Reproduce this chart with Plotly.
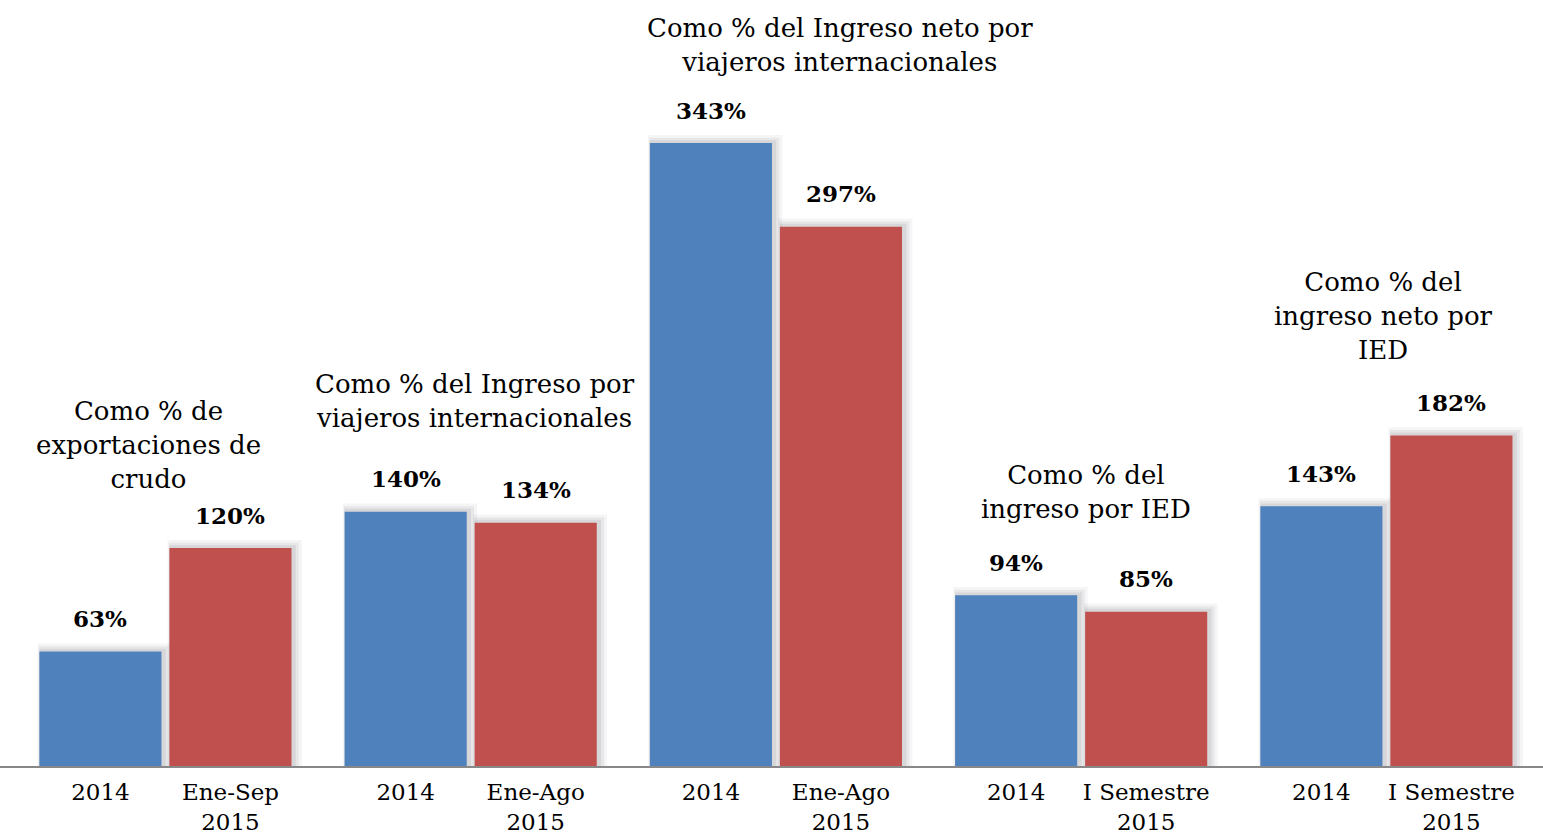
import plotly.graph_objects as go

# data
group_titles = [
    "Como % de<br>exportaciones de<br>crudo",
    "Como % del Ingreso por<br>viajeros internacionales",
    "Como % del Ingreso neto por<br>viajeros internacionales",
    "Como % del<br>ingreso por IED",
    "Como % del<br>ingreso neto por<br>IED",
]
first_labels = ["2014", "2014", "2014", "2014", "2014"]
second_labels = ["Ene-Sep<br>2015", "Ene-Ago<br>2015", "Ene-Ago<br>2015",
                 "I Semestre<br>2015", "I Semestre<br>2015"]
values_2014 = [63, 140, 343, 94, 143]
values_2015 = [120, 134, 297, 85, 182]

BLUE = "#4F81BD"
RED = "#C0504D"
FONT = "DejaVu Serif"

# layout helpers
OFFSET = 0.213
BAR_W = 0.4
title_dx = [-0.057, 0.014, 0.21, 0.017, -0.011]
title_y = [177, 201, 397, 151, 248]

x_first = [i - OFFSET for i in range(len(values_2014))]
x_second = [i + OFFSET for i in range(len(values_2015))]

fig = go.Figure()

# soft shadow behind every bar (a few faint layers)
for xs, vals in ((x_first, values_2014), (x_second, values_2015)):
    for dw, dx, dh, alpha in ((0.04, 0.014, 4.5, 0.05), (0.026, 0.011, 3.0, 0.07),
                              (0.014, 0.007, 1.6, 0.09)):
        fig.add_trace(go.Bar(
            x=[x + dx for x in xs], y=[v + dh for v in vals],
            width=BAR_W + dw,
            marker=dict(color=f"rgba(60,60,70,{alpha})", line=dict(width=0)),
            hoverinfo="skip", showlegend=False,
        ))

fig.add_trace(go.Bar(x=x_first, y=values_2014, width=BAR_W,
                     marker=dict(color=BLUE, line=dict(width=0)), showlegend=False))
fig.add_trace(go.Bar(x=x_second, y=values_2015, width=BAR_W,
                     marker=dict(color=RED, line=dict(width=0)), showlegend=False))

# value labels
for xs, vals in ((x_first, values_2014), (x_second, values_2015)):
    for x, v in zip(xs, vals):
        fig.add_annotation(x=x, y=v, text=f"<b>{v}%</b>", showarrow=False,
                           yshift=33, font=dict(family=FONT, size=23, color="black"))

# group titles
for i, t in enumerate(group_titles):
    fig.add_annotation(x=i + title_dx[i], y=title_y[i], text=t, showarrow=False,
                       yanchor="middle", align="center",
                       font=dict(family=FONT, size=26, color="black"))

fig.update_layout(
    width=1543, height=836,
    barmode="overlay",
    margin=dict(l=0, r=0, t=0, b=70),
    paper_bgcolor="white", plot_bgcolor="white",
    font=dict(family=FONT, size=23, color="black"),
    xaxis=dict(
        range=[-0.542, 4.513],
        tickvals=x_first + x_second,
        ticktext=first_labels + second_labels,
        showgrid=False, zeroline=False,
        showline=True, linecolor="#888888", linewidth=2,
        ticks="", ticklabelstandoff=4,
        tickfont=dict(family=FONT, size=23, color="black"),
    ),
    yaxis=dict(range=[0, 421.8], visible=False),
)

fig.write_html("out.html", config={"displayModeBar": False},
               post_script="document.body.style.margin='0px';")
